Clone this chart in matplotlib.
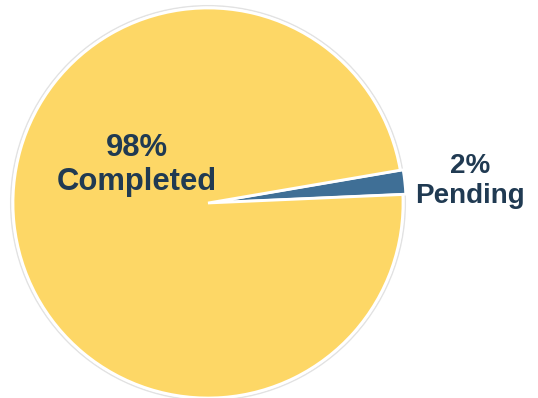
import matplotlib.pyplot as plt
from matplotlib.patches import Circle

# data
labels = ['Pending', 'Completed']
values = [2, 98]
colors = ['#3F6F96', '#FDD766']
text_color = '#203A52'

fig = plt.figure(figsize=(5.38, 3.98), dpi=100)
ax = fig.add_axes([0, 0, 1, 1])

# faint outline behind the pie
ax.add_patch(Circle((0, 0), 1.012, facecolor='none', edgecolor='#e2e2e2', lw=1.0, zorder=0))

ax.pie(values, colors=colors, startangle=2.5, counterclock=True,
       explode=[0.015, 0], radius=1.0,
       wedgeprops=dict(edgecolor='white', linewidth=2))

# labels
ax.text(-0.364, 0.195, '98%\nCompleted', ha='center', va='center',
        fontsize=22.3, fontweight='bold', color=text_color,
        family='Liberation Sans', linespacing=1.2)
ax.text(1.344, 0.115, '2%\nPending', ha='center', va='center',
        fontsize=20, fontweight='bold', color=text_color,
        family='Liberation Sans', linespacing=1.2)

ax.set_xlim(-208 / 195, (538 - 208) / 195)
ax.set_ylim(-(398 - 203) / 195, 203 / 195)
ax.set_aspect('auto')
ax.axis('off')

fig.savefig('out.png', dpi=100)
